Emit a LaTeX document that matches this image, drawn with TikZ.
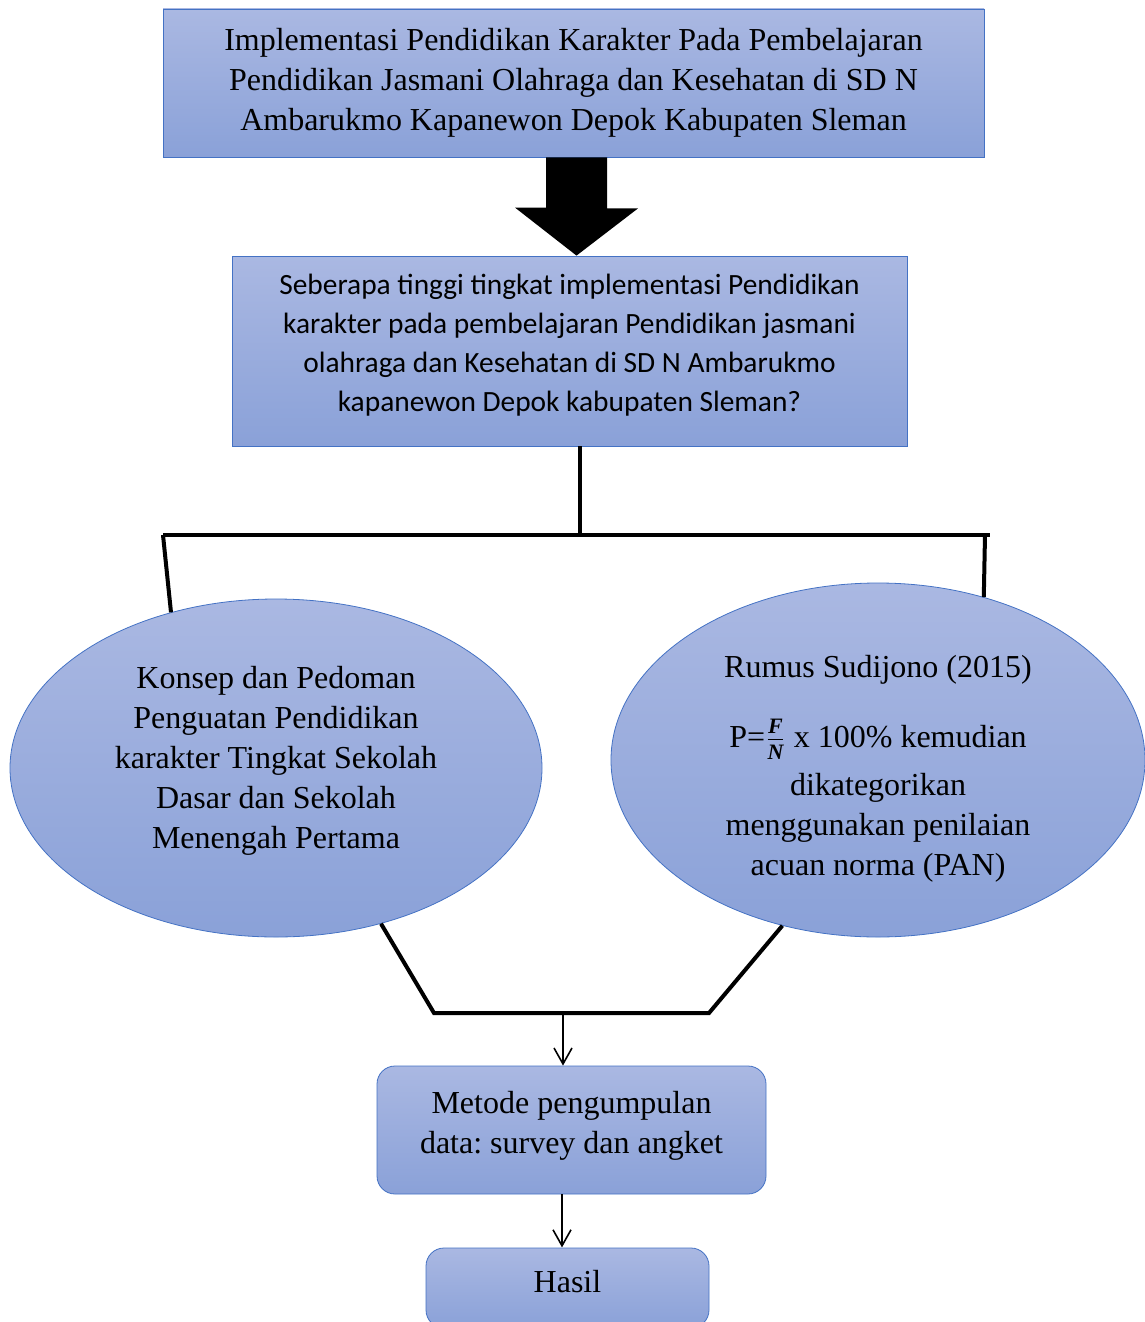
\documentclass[tikz,border=0pt]{standalone}
\usepackage{fontspec}
\setmainfont{Liberation Serif}
\newfontfamily\calibri{Carlito}
\usetikzlibrary{shapes.geometric, arrows.meta, calc}
\frenchspacing
\definecolor{boxtop}{HTML}{AAB8E2}
\definecolor{boxbot}{HTML}{8AA1D8}
\definecolor{boxline}{HTML}{4472C4}
\tikzstyle{box} = [rectangle, draw=boxline, top color=boxtop, bottom color=boxbot, align=center, inner sep=0pt, font=\fontsize{16}{20}\selectfont]
\tikzstyle{oval} = [ellipse, draw=boxline, top color=boxtop, bottom color=boxbot, align=center, inner sep=0pt, font=\fontsize{16}{20}\selectfont]
\tikzstyle{link} = [line width=2pt]
\tikzstyle{arrow} = [line width=0.8pt, -{Straight Barb[length=8pt,width=9pt]}]
\newcommand{\fracvar}[1]{\mbox{\fontsize{11}{11}\selectfont\bfseries\itshape #1}}

\begin{document}
\frenchspacing
\begin{tikzpicture}[x=0.5pt, y=-0.5pt]
                \useasboundingbox (0,0) rectangle (1145,1322);

                % Boxes
                \node[box, minimum width=410.5pt, minimum height=74pt] (top) at (573.5,83)
                  {Implementasi Pendidikan Karakter Pada Pembelajaran\\Pendidikan Jasmani Olahraga dan Kesehatan di SD N\\Ambarukmo Kapanewon Depok Kabupaten Sleman};
                \node[box, minimum width=337.5pt, minimum height=95pt, font=\calibri\fontsize{14.7}{19.5}\selectfont] (q) at (569.5,351)
                  {\raisebox{3pt}[\height][\depth]{Seberapa tinggi tingkat implementasi Pendidikan}\\\raisebox{3pt}[\height][\depth]{karakter pada pembelajaran Pendidikan jasmani}\\\raisebox{3pt}[\height][\depth]{olahraga dan Kesehatan di SD N Ambarukmo}\\\raisebox{3pt}[\height][\depth]{kapanewon Depok kabupaten Sleman?}};

                % Ellipses
                \node[oval, minimum width=266pt, minimum height=169pt] (L) at (276,768)
                  {Konsep dan Pedoman\\Penguatan Pendidikan\\karakter Tingkat Sekolah\\Dasar dan Sekolah\\Menengah Pertama\rule[-11pt]{0pt}{0pt}};
                \node[oval, minimum width=267pt, minimum height=177pt] (R) at (878,760)
                  {\rule{0pt}{20pt}Rumus Sudijono (2015)\\[15pt]P=$\frac{\fracvar{F}}{\fracvar{N}}$ x 100\% kemudian\\[4pt]dikategorikan\\menggunakan penilaian\\acuan norma (PAN)};

                \node[box, rounded corners=9pt, minimum width=194.5pt, minimum height=64pt] (M) at (571.5,1130)
                  {\raisebox{2pt}[\height][\depth]{Metode pengumpulan}\\\raisebox{2pt}[\height][\depth]{data: survey dan angket}};
                \node[box, rounded corners=9pt, minimum width=141.5pt, minimum height=40pt] (H) at (567.5,1288)
                  {\raisebox{3pt}[\height][\depth]{Hasil}};

                % Block arrow
                \path (top.south) ++(3,0) coordinate (aTop);
                \fill (aTop) ++(-30.5,0) -- ++(61,0) -- ++(0,51) -- ++(31,0) -- (aTop |- q.north)
                  -- ++(-61.5,-48) -- ++(31,0) -- cycle;

                % Branches to the ellipses
                \coordinate (bl) at (163,535);
                \coordinate (br) at (990,535);
                \draw[link] ($(q.south)+(10.5,0)$) -- ($(q.south)+(10.5,89)$);
                \draw[link] (bl) -- (br);
                \draw[link] (bl) -- (L.124);
                \draw[link] (985,535) -- (R.57);

                % Join below the ellipses
                \coordinate (m1) at (434,1013);
                \coordinate (m2) at (709,1013);
                \coordinate (mid) at (563,1013);
                \draw[link] (L.-56) -- (m1) -- (m2) -- (R.240);
                \draw[arrow] (mid) -- (mid |- M.north);
                \draw[arrow] ($(M.south)+(-9.5,0)$) -- ($(M.south)+(-9.5,53)$);
            \end{tikzpicture}
\end{document}
